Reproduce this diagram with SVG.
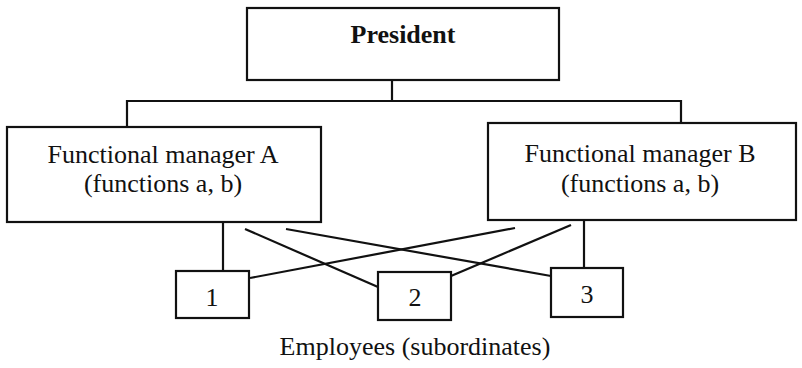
<svg xmlns="http://www.w3.org/2000/svg" width="802" height="368" viewBox="0 0 802 368">
<style>
.box{fill:#fff;stroke:#111;stroke-width:2.2}
.ln{stroke:#111;stroke-width:2.2;fill:none}
.t{font-family:"Liberation Serif","Times New Roman",serif;font-size:26px;fill:#111;text-anchor:middle}
.b{font-weight:bold}
</style>
<rect width="802" height="368" fill="#fff"/>
<g id="connectors">
<polyline class="ln" points="392,80 392,101"/>
<polyline class="ln" points="127,127 127,101 681,101 681,123"/>
<line class="ln" x1="223" y1="222" x2="223" y2="271"/>
<line class="ln" x1="584" y1="220" x2="584" y2="268"/>
<line class="ln" x1="245" y1="229" x2="378" y2="287"/>
<line class="ln" x1="286" y1="229" x2="551" y2="276"/>
<line class="ln" x1="515" y1="228" x2="250" y2="278"/>
<line class="ln" x1="571" y1="225" x2="451" y2="276"/>
</g>
<g id="president">
<rect class="box" x="247" y="8" width="312" height="72"/>
<text class="t b" x="403" y="43">President</text>
</g>
<g id="managerA">
<rect class="box" x="7" y="127" width="314" height="95"/>
<text class="t" x="163" y="163">Functional manager A</text>
<text class="t" x="163" y="192">(functions a, b)</text>
</g>
<g id="managerB">
<rect class="box" x="488" y="123" width="308" height="97"/>
<text class="t" x="640" y="162">Functional manager B</text>
<text class="t" x="640" y="192">(functions a, b)</text>
</g>
<g id="emp1">
<rect class="box" x="176" y="271" width="73" height="47"/>
<text class="t" x="212" y="306">1</text>
</g>
<g id="emp2">
<rect class="box" x="378" y="272" width="73" height="48"/>
<text class="t" x="415" y="306">2</text>
</g>
<g id="emp3">
<rect class="box" x="551" y="268" width="72" height="49"/>
<text class="t" x="587" y="303">3</text>
</g>
<text class="t" x="415" y="355">Employees (subordinates)</text>
</svg>
